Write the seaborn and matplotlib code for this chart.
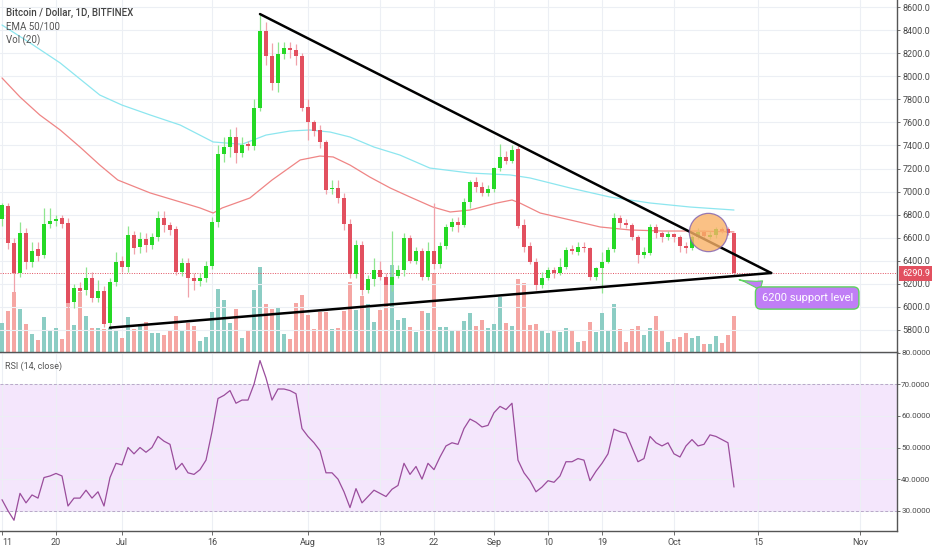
import numpy as np
import pandas as pd
import matplotlib
matplotlib.use("Agg")
import matplotlib.pyplot as plt
import seaborn as sns

# ---------------- data (day 0 = 11 Jun 2018, daily candles) ----------------
opens = [6762, 6875, 6554, 6294, 6641, 6389, 6502, 6450, 6719, 6745,
         6771, 6728, 6043, 6164, 6147, 6251, 6077, 6138, 5860, 6216,
         6398, 6346, 6624, 6520, 6589, 6537, 6606, 6771, 6710, 6675,
         6303, 6381, 6251, 6225, 6251, 6355, 6736, 7326, 7386, 7473,
         7334, 7412, 7395, 7724, 8392, 8175, 7941, 8193, 8245, 8227,
         8175, 7733, 7603, 7534, 7427, 7020, 7034, 6942, 6716, 6285,
         6537, 6147, 6239, 6320, 6262, 6190, 6271, 6320, 6595, 6398,
         6487, 6262, 6487, 6369, 6531, 6695, 6734, 6710, 6912, 7086,
         7042, 6990, 7020, 7202, 7302, 7268, 7366, 6710, 6531, 6392,
         6190, 6248, 6320, 6294, 6343, 6502, 6479, 6522, 6508, 6262,
         6340, 6392, 6502, 6768, 6730, 6710, 6603, 6450, 6470, 6695,
         6638, 6610, 6632, 6603, 6531, 6508, 6603, 6647, 6610, 6620,
         6675, 6675, 6638]
closes = [6884, 6554, 6294, 6641, 6389, 6485, 6442, 6719, 6745, 6762,
          6719, 6034, 6164, 6138, 6251, 6077, 6138, 5852, 6216, 6389,
          6346, 6624, 6511, 6589, 6537, 6606, 6771, 6710, 6667, 6303,
          6381, 6251, 6225, 6251, 6355, 6736, 7326, 7386, 7473, 7334,
          7404, 7395, 7724, 8392, 8175, 7941, 8193, 8245, 8227, 8175,
          7724, 7603, 7525, 7427, 7014, 7034, 6942, 6716, 6285, 6537,
          6147, 6239, 6320, 6262, 6190, 6262, 6320, 6595, 6398, 6487,
          6262, 6487, 6369, 6531, 6695, 6734, 6710, 6912, 7086, 7042,
          6990, 7020, 7202, 7302, 7268, 7360, 6704, 6522, 6392, 6190,
          6248, 6320, 6294, 6343, 6493, 6485, 6522, 6510, 6262, 6340,
          6392, 6493, 6768, 6730, 6710, 6603, 6450, 6479, 6695, 6638,
          6603, 6632, 6603, 6531, 6508, 6603, 6647, 6617, 6620, 6675,
          6660, 6638, 6291]
highs = [6900, 6900, 6600, 6736, 6680, 6560, 6560, 6857, 6857, 6800,
         6800, 6770, 6200, 6220, 6346, 6300, 6230, 6180, 6250, 6480,
         6440, 6700, 6660, 6650, 6640, 6640, 6830, 6830, 6740, 6700,
         6420, 6420, 6290, 6290, 6400, 6780, 7400, 7470, 7540, 7560,
         7470, 7440, 7800, 8531, 8470, 8290, 8300, 8300, 8300, 8280,
         8200, 7800, 7620, 7580, 7450, 7100, 7100, 6990, 6760, 6580,
         6570, 6280, 6420, 6400, 6290, 6660, 6360, 6640, 6620, 6520,
         6510, 6560, 6900, 6560, 6720, 6770, 6780, 6940, 7100, 7130,
         7080, 7060, 7210, 7410, 7350, 7400, 7400, 6760, 6560, 6420,
         6300, 6350, 6350, 6420, 6520, 6540, 6560, 6560, 6520, 6350,
         6480, 6520, 6810, 6800, 6760, 6730, 6620, 6520, 6720, 6720,
         6660, 6660, 6640, 6620, 6560, 6620, 6680, 6670, 6660, 6690,
         6690, 6690, 6640]
lows = [6700, 6500, 6130, 6260, 6330, 6350, 6400, 6420, 6680, 6700,
        6680, 5980, 5990, 6100, 6100, 6040, 6040, 5826, 5820, 6180,
        6300, 6300, 6460, 6470, 6480, 6500, 6570, 6650, 6620, 6280,
        6270, 6086, 6150, 6180, 6220, 6330, 6690, 7260, 7300, 7250,
        7300, 7360, 7360, 7700, 8100, 7880, 7860, 8150, 8160, 8100,
        7700, 7450, 7480, 7380, 6980, 6980, 6900, 6670, 6250, 6250,
        6100, 6120, 6180, 6230, 6150, 6140, 6250, 6270, 6380, 6370,
        6230, 6230, 6330, 6340, 6500, 6660, 6650, 6690, 6860, 7000,
        6960, 6960, 7000, 7180, 7240, 7250, 6680, 6480, 6370, 6147,
        6160, 6230, 6250, 6280, 6330, 6460, 6450, 6480, 6230, 6230,
        6120, 6380, 6480, 6680, 6680, 6580, 6380, 6420, 6450, 6600,
        6560, 6580, 6560, 6480, 6470, 6490, 6590, 6590, 6590, 6600,
        6640, 6620, 6280]
volume_k = [29, 41, 60, 43, 28, 18, 12, 35, 22, 24,
            13, 50, 27, 60, 36, 24, 24, 23, 24, 21,
            14, 35, 23, 28, 30, 19, 19, 17, 21, 36,
            21, 29, 26, 11, 15, 40, 63, 52, 29, 43,
            14, 22, 62, 85, 48, 43, 45, 18, 13, 49,
            57, 37, 23, 40, 40, 23, 24, 41, 70, 42,
            56, 48, 30, 42, 67, 87, 32, 34, 25, 20,
            41, 39, 79, 25, 25, 21, 22, 31, 39, 26,
            32, 24, 28, 55, 29, 26, 73, 69, 27, 28,
            21, 19, 21, 20, 24, 21, 10, 11, 30, 20,
            39, 21, 48, 23, 10, 23, 26, 17, 24, 36,
            22, 10, 13, 15, 19, 14, 16, 8, 8, 16,
            9, 17, 36]
rsi = [33.5, 30, 27, 35.5, 32.5, 35, 34, 40.5, 41, 41.8,
       41, 31.5, 34, 34, 36.5, 34, 36, 31.5, 40.5, 45,
       44.5, 50, 48, 50, 48.5, 50, 53.5, 52, 51, 43,
       45, 42, 41.5, 43, 46, 55, 65.5, 66.5, 68, 64,
       65, 65, 70, 77.5, 72, 65, 68.5, 68.5, 68, 67,
       56, 53.5, 51.5, 49, 42, 42, 40, 36, 31, 37,
       32.5, 34.5, 36.5, 35.5, 34.5, 36.8, 38, 45, 41.5, 44,
       40, 45, 43, 47, 50.5, 51.5, 51, 56, 59, 58,
       56.5, 57, 61, 63, 62, 64, 46, 42, 39.5, 36,
       37.5, 39.5, 39, 41, 45.5, 45.5, 46.5, 46, 39.5, 42.5,
       45, 48, 55.8, 55, 54.5, 50, 45.5, 46.5, 53.5, 51.5,
       50.5, 51.5, 48, 47, 50.5, 52.5, 50.5, 51, 54, 53.5,
       52.5, 51.5, 37.5]
ema50_day = [0, 3, 6.3, 9.7, 13, 16.3, 19.3, 24.7, 29.7, 33, 35.2, 36.7, 41.3, 45,
             49.7, 53, 55.2, 58, 61.3, 64.7, 68, 71.8, 74.7, 78, 82.5, 85, 86.3,
             89.7, 94.7, 99.7, 104.7, 110.2, 115.8, 122]
ema50_val = [7985, 7820, 7664, 7534, 7386, 7230, 7100, 6988, 6910, 6858, 6814, 6858, 6944, 7100,
             7274, 7308, 7300, 7230, 7126, 7031, 6953, 6866, 6823, 6840, 6901, 6927, 6901,
             6814, 6754, 6693, 6667, 6658, 6658, 6650]
ema100_day = [0, 4.7, 9.7, 16.3, 20, 24.7, 29.7, 35.2, 40, 44, 48, 51.3, 54.7, 58, 62,
              66.3, 71.3, 78, 84.7, 88, 94.7, 101.3, 108, 114.7, 122]
ema100_val = [8444, 8288, 8115, 7837, 7750, 7664, 7577, 7430, 7410, 7490, 7525, 7534, 7516, 7473, 7386,
              7317, 7204, 7161, 7144, 7118, 7031, 6953, 6901, 6866, 6840]
last_price = 6290.9
upper_trend_day = [43, 128.2]
upper_trend_val = [8539, 6294]
lower_trend_day = [18, 128.2]
lower_trend_val = [5820, 6294]
x_tick_days = [0, 9, 20, 35, 51, 63, 72, 82, 91, 100, 112, 126, 143]
x_tick_labels = ["11", "20", "Jul", "16", "Aug", "13", "22", "Sep", "10", "19", "Oct", "15", "Nov"]
price_ticks = [5800, 6000, 6200, 6400, 6600, 6800, 7000, 7200, 7400, 7600, 7800, 8000, 8200, 8400, 8600]
rsi_ticks = [30, 40, 50, 60, 70, 80]

# ---------------- style ----------------
sns.set_theme(style="white")
plt.rcParams['font.family'] = ['Roboto', 'DejaVu Sans']

GREEN, RED = '#25d925', '#e2505f'
GREEN_W, RED_W = '#8fe58f', '#f0a2ab'
TEAL, SALMON = '#8ccdc4', '#f5a6a3'
GRID = '#eceff4'
AXC = '#555555'
TXT = '#4a4a4a'

fig = plt.figure(figsize=(9.32, 5.5), dpi=100)
ax_vol = fig.add_axes([0, 198 / 550, 897 / 932, 352 / 550])
ax_p = ax_vol.twinx()
ax_rsi = fig.add_axes([0, 19 / 550, 897 / 932, 179 / 550], sharex=ax_vol)

days = np.arange(len(opens))
o = np.array(opens, float)
c = np.array(closes, float)
up = c >= o

# volume
ax_vol.bar(days, volume_k, width=0.8, color=np.where(up, TEAL, SALMON), zorder=2, linewidth=0)
ax_vol.set_ylim(0, 352)
ax_vol.set_yticks([])

# candles
ax_p.vlines(days, lows, highs, colors=np.where(up, GREEN_W, RED_W), lw=0.9, zorder=2)
ax_p.bar(days, np.maximum(np.abs(c - o), 9), bottom=np.minimum(o, c), width=0.74,
         color=np.where(up, GREEN, RED), linewidth=0, zorder=3)

# EMAs
sns.lineplot(data=pd.DataFrame({'d': ema100_day, 'v': ema100_val}), x='d', y='v', ax=ax_p,
             color='#8de6ef', lw=0.9, zorder=1)
sns.lineplot(data=pd.DataFrame({'d': ema50_day, 'v': ema50_val}), x='d', y='v', ax=ax_p,
             color='#ef8585', lw=0.9, zorder=1)

# last price line
ax_p.axhline(last_price, color=RED, ls=(0, (1, 1.5)), lw=0.7, zorder=1)

# triangle
ax_p.plot(upper_trend_day, upper_trend_val, color='black', lw=1.8, zorder=5, solid_capstyle='round')
ax_p.plot(lower_trend_day, lower_trend_val, color='black', lw=1.8, zorder=5, solid_capstyle='round')

# highlighted circle
ax_p.scatter([117.7], [6650], s=760, facecolor='#f9b267', edgecolor='#7e5fb0', linewidth=0.9,
             alpha=0.8, zorder=6)

# callout
ax_p.annotate("6200 support level", xy=(122.4, 6242), xytext=(134.2, 6077),
              ha='center', va='center', color='white', fontsize=8, zorder=8,
              bbox=dict(boxstyle='round,pad=0.55,rounding_size=0.5', fc='#c07ef6', ec='#5ed35e', lw=1),
              arrowprops=dict(arrowstyle='wedge,tail_width=0.9,shrink_factor=0.3', fc='#c07ef6',
                              ec='#5ed35e', lw=0.8))

ax_p.set_ylim(5609, 8661)
ax_p.set_xlim(-0.333, 149.17)
ax_p.set_yticks(price_ticks)
ax_p.set_yticklabels([f"{v:.1f}" for v in price_ticks])
ax_p.yaxis.grid(True, color=GRID, lw=0.8)
ax_p.set_axisbelow(True)
ax_p.set_xlabel('')
ax_p.set_ylabel('')
ax_p.tick_params(axis='y', right=True, length=2.5, width=0.6, color=AXC, labelcolor=TXT,
                 labelsize=6.5, pad=1.5)

# price label box
ax_p.annotate(f"{last_price:.1f}", xy=(1.0, last_price), xycoords=('axes fraction', 'data'),
              xytext=(4, 0), textcoords='offset points', ha='left', va='center',
              color='white', fontsize=6.5, annotation_clip=False,
              bbox=dict(boxstyle='square,pad=0.35', fc=RED, ec='none'))

for a in (ax_vol, ax_p):
    for s in ('top', 'left', 'bottom'):
        a.spines[s].set_visible(False)
ax_p.spines['right'].set_color(AXC)
ax_p.spines['right'].set_linewidth(1)
ax_vol.spines['right'].set_visible(False)
ax_vol.tick_params(axis='x', bottom=False, labelbottom=False)
ax_vol.xaxis.grid(True, color=GRID, lw=0.8)
ax_vol.set_axisbelow(True)

# RSI
ax_rsi.axhspan(30, 70, color='#f4e6fc', zorder=0, lw=0)
for lv in (30, 70):
    ax_rsi.axhline(lv, color='#b9a7c9', ls=(0, (3, 2)), lw=0.7, zorder=1)
sns.lineplot(data=pd.DataFrame({'d': days, 'r': rsi}), x='d', y='r', ax=ax_rsi,
             color='#9a4d9c', lw=0.9, zorder=3)
ax_rsi.set_ylim(23.6, 80.2)
ax_rsi.set_xlim(-0.333, 149.17)
ax_rsi.yaxis.tick_right()
ax_rsi.set_yticks(rsi_ticks)
ax_rsi.set_yticklabels([f"{v:.4f}" for v in rsi_ticks])
ax_rsi.set_xticks(x_tick_days)
ax_rsi.set_xticklabels(x_tick_labels)
ax_rsi.get_xticklabels()[0].set_ha('left')
ax_rsi.set_xlabel('')
ax_rsi.set_ylabel('')
ax_rsi.grid(True, color=GRID, lw=0.8)
ax_rsi.set_axisbelow(True)
ax_rsi.tick_params(axis='y', right=True, length=2, width=0.6, color=AXC, labelcolor=TXT,
                   labelsize=5.8, pad=1)
ax_rsi.tick_params(axis='x', bottom=True, length=3, width=0.6, color=AXC, labelcolor=TXT,
                   labelsize=6.5, pad=2)
ax_rsi.spines['left'].set_visible(False)
for s in ('top', 'right', 'bottom'):
    ax_rsi.spines[s].set_color(AXC)
    ax_rsi.spines[s].set_linewidth(1)

# header texts
fig.text(6 / 932, 1 - 13 / 550, "Bitcoin / Dollar, 1D, BITFINEX", fontsize=7, color='#444444',
         va='center', ha='left', weight='medium')
fig.text(6 / 932, 1 - 26 / 550, "EMA 50/100", fontsize=7, color='#555555', va='center', ha='left')
fig.text(6 / 932, 1 - 40 / 550, "Vol (20)", fontsize=7, color='#555555', va='center', ha='left')
fig.text(5 / 932, 1 - 366 / 550, "RSI (14, close)", fontsize=6.5, color='#555555', va='center', ha='left')

fig.savefig("out.png", dpi=100)
